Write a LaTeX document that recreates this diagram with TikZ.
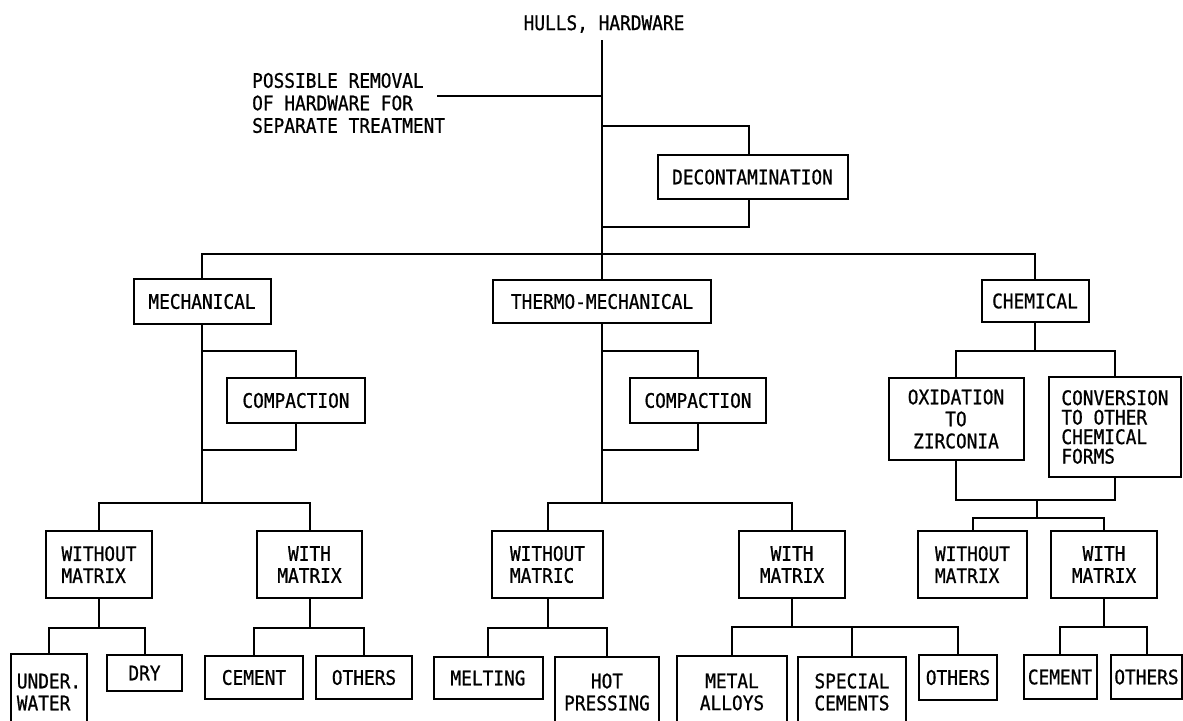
\documentclass[tikz,border=0pt]{standalone}
\usepackage{fontspec}
\setmainfont{DejaVu Sans Mono}[FakeStretch=0.89,FakeBold=0.8]
\begin{document}
\begin{tikzpicture}[x=1pt,y=-1pt,
  txt/.style={inner sep=0pt, font=\fontsize{20}{22.5}\selectfont},
  box/.style={draw, line width=2pt, inner sep=0pt, align=center,
    font=\fontsize{20}{22}\selectfont},
  sz/.style 2 args={minimum width=#1pt, minimum height=#2pt},
  wire/.style={line width=2pt}]
\useasboundingbox (0,0) rectangle (1183,720);

% --- top: input and decontamination ---
\node[txt] (hulls) at (604,24) {HULLS, HARDWARE};
\node[txt, anchor=west, align=left] (removal) at (252,103)
  {POSSIBLE REMOVAL\\OF HARDWARE FOR\\SEPARATE TREATMENT};
\node[box, sz={190}{44}] (decon) at (752.5,177) {DECONTAMINATION};

% --- second level ---
\node[box, sz={137}{45}] (mech) at (202,301.5) {MECHANICAL};
\node[box, sz={218}{43}] (thermo) at (602,301.5) {THERMO-MECHANICAL};
\node[box, sz={107}{42}] (chem) at (1035,301) {CHEMICAL};

% --- third level ---
\node[box, sz={138}{45}] (comp1) at (296,400.5) {COMPACTION};
\node[box, sz={136}{45}] (comp2) at (698,400.5) {COMPACTION};
\node[box, sz={135}{82}] (oxid) at (956,419) {OXIDATION\\TO\\ZIRCONIA};
\node[box, sz={132}{100}, align=left, font=\fontsize{20}{19.5}\selectfont]
  (conv) at (1115,427) {CONVERSION\\TO OTHER\\CHEMICAL\\FORMS};

% --- matrix level ---
\node[box, sz={106}{67}, align=left] (wom1) at (99,564.5) {WITHOUT\\MATRIX};
\node[box, sz={105}{67}] (wm1) at (309.5,564.5) {WITH\\MATRIX};
\node[box, sz={111}{67}, align=left] (wom2) at (547.5,564.5) {WITHOUT\\MATRIC};
\node[box, sz={106}{67}] (wm2) at (792,564.5) {WITH\\MATRIX};
\node[box, sz={109}{67}, align=left] (wom3) at (972.5,564.5) {WITHOUT\\MATRIX};
\node[box, sz={106}{67}] (wm3) at (1104,564.5) {WITH\\MATRIX};

% --- bottom level ---
\node[box, sz={76}{76}, align=left] (under) at (49,692) {UNDER.\\WATER};
\node[box, sz={75}{36}] (dry) at (144.5,673) {DRY};
\node[box, sz={98}{43}] (cem1) at (254,677.5) {CEMENT};
\node[box, sz={96}{43}] (oth1) at (364,677.5) {OTHERS};
\node[box, sz={109}{42}] (melt) at (488,678) {MELTING};
\node[box, sz={104}{70}] (hot) at (607,692) {HOT\\PRESSING};
\node[box, sz={110}{72}] (metal) at (732,692) {METAL\\ALLOYS};
\node[box, sz={108}{70}] (special) at (852,692) {SPECIAL\\CEMENTS};
\node[box, sz={78}{45}] (oth2) at (958,677.5) {OTHERS};
\node[box, sz={73}{44}] (cem3) at (1060,677) {CEMENT};
\node[box, sz={71}{44}] (oth3) at (1146.5,677) {OTHERS};

% --- junction points ---
\coordinate (top) at (602,40);
\coordinate (rmv) at (437,96);
\coordinate (dA) at (602,126);
\coordinate (dB) at (602,227);
\coordinate (bus) at (602,254);
\coordinate (mc1) at (202,351);
\coordinate (mc2) at (202,450);
\coordinate (mj) at (202,503);
\coordinate (tc1) at (602,351);
\coordinate (tc2) at (602,450);
\coordinate (tj) at (602,503);
\coordinate (cj2) at (1037,500);

% --- trunk and side branch ---
\draw[wire] (top) -- (thermo.north);
\draw[wire] (rmv) -- (rmv -| top);
\draw[wire] (dA) -| ([xshift=-4pt]decon.north);
\draw[wire] ([xshift=-4pt]decon.south) |- (dB);
\draw[wire] (mech.north) |- (bus) -| (chem.north);

% --- mechanical ---
\draw[wire] (mech.south) -- (mj);
\draw[wire] (mc1) -| (comp1.north);
\draw[wire] (comp1.south) |- (mc2);
\draw[wire] (wom1.north) |- (mj) -| (wm1.north);
\draw[wire] (wom1.south) -- ++(0,29) coordinate (w1j);
\draw[wire] (under.north) |- (w1j) -| (dry.north);
\draw[wire] (wm1.south) -- ++(0,29) coordinate (w2j);
\draw[wire] (cem1.north) |- (w2j) -| (oth1.north);

% --- thermo-mechanical ---
\draw[wire] (thermo.south) -- (tj);
\draw[wire] (tc1) -| (comp2.north);
\draw[wire] (comp2.south) |- (tc2);
\draw[wire] (wom2.north) |- (tj) -| (wm2.north);
\draw[wire] (wom2.south) -- ++(0,29) coordinate (w3j);
\draw[wire] (melt.north) |- (w3j) -| (hot.north);
\draw[wire] (wm2.south) -- ++(0,28) coordinate (w4j);
\draw[wire] (metal.north) |- (w4j) -| (oth2.north);
\draw[wire] (special.north) -- (special.north |- w4j);

% --- chemical ---
\draw[wire] (chem.south) -- ++(0,28) coordinate (cj);
\draw[wire] (oxid.north) |- (cj) -| (conv.north);
\draw[wire] (oxid.south) |- (cj2);
\draw[wire] (conv.south) |- (cj2);
\draw[wire] (cj2) -- ++(0,18) coordinate (cj3);
\draw[wire] (wom3.north) |- (cj3) -| (wm3.north);
\draw[wire] (wm3.south) -- ++(0,28) coordinate (w6j);
\draw[wire] (cem3.north) |- (w6j) -| (oth3.north);
\end{tikzpicture}
\end{document}
